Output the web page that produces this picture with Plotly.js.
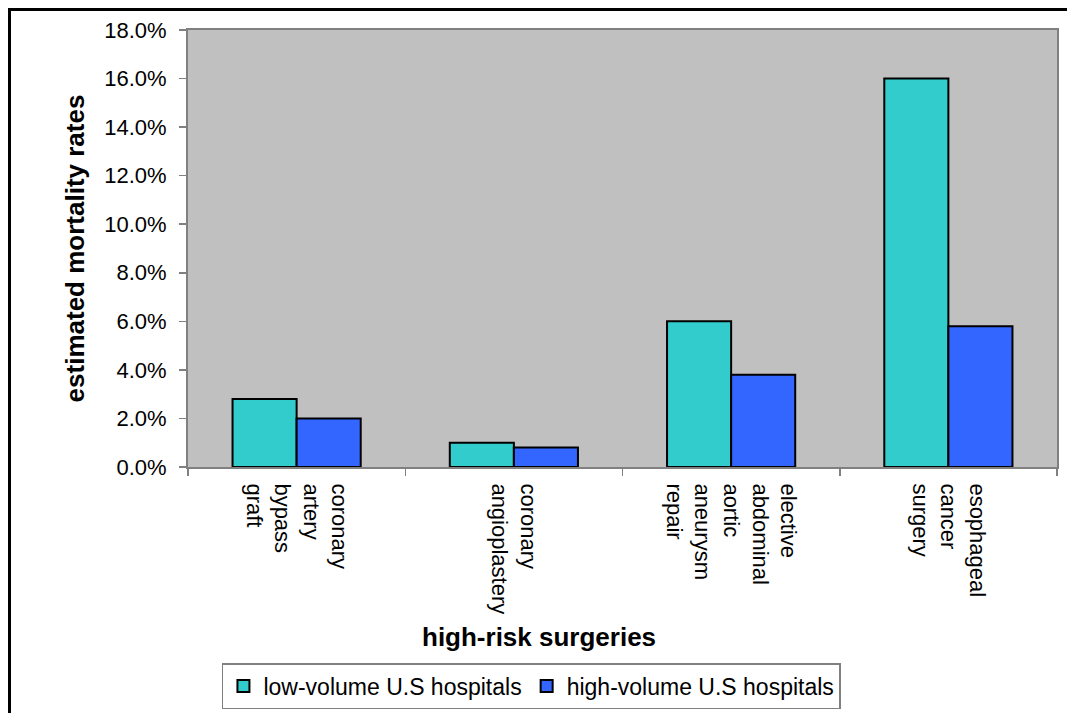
<!DOCTYPE html>
<html>
<head>
<meta charset="utf-8">
<script src="https://cdn.plot.ly/plotly-3.0.1.min.js"></script>
<style>
  html, body { margin: 0; padding: 0; background: #fff; overflow: hidden; }
  #wrap { position: relative; width: 1067px; height: 713px; }
  #chart { position: absolute; left: 0; top: 0; width: 1067px; height: 713px; }
  #frame {
    position: absolute; left: 8px; top: 8px; width: 1200px; height: 800px;
    border-left: 3px solid #000; border-top: 3px solid #000;
    pointer-events: none;
  }
</style>
</head>
<body>
<div id="wrap">
  <div id="chart"></div>
  <div id="frame"></div>
</div>
<script>
// Estimated mortality rates for high-risk surgeries, by hospital volume
const surgeries = [
  "coronary<br>artery<br>bypass<br>graft",
  "coronary<br>angioplastery",
  "elective<br>abdominal<br>aortic<br>aneurysm<br>repair",
  "esophageal<br>cancer<br>surgery"
];
const lowVolume  = [0.028, 0.010, 0.060, 0.160];
const highVolume = [0.020, 0.008, 0.038, 0.058];
const seriesNames = ["low-volume U.S hospitals", "high-volume U.S hospitals"];
const xTitle = "high-risk surgeries";
const yTitle = "estimated mortality rates";

const FONT = "Liberation Sans, Arial, sans-serif";

const traces = [
  {
    type: "bar", name: seriesNames[0], x: surgeries, y: lowVolume,
    marker: { color: "#33CCCC", line: { color: "#000", width: 2 } },
    hoverinfo: "skip"
  },
  {
    type: "bar", name: seriesNames[1], x: surgeries, y: highVolume,
    marker: { color: "#3366FF", line: { color: "#000", width: 2 } },
    hoverinfo: "skip"
  }
];

const layout = {
  width: 1067, height: 713,
  margin: { l: 188, r: 10, t: 30, b: 246 },
  paper_bgcolor: "#fff",
  plot_bgcolor: "#C0C0C0",
  font: { family: FONT, size: 22, color: "#000" },
  barmode: "group",
  bargap: 0.41,
  bargroupgap: 0,
  showlegend: true,
  legend: {
    orientation: "h",
    xref: "container", yref: "container",
    x: 0.208, xanchor: "left",
    y: 0.07, yanchor: "top",
    bgcolor: "#fff",
    bordercolor: "#808080", borderwidth: 1.5,
    font: { family: FONT, size: 23, color: "#000" },
    itemwidth: 30,
    traceorder: "normal"
  },
  xaxis: {
    type: "category",
    tickangle: 90,
    tickson: "boundaries",
    ticks: "outside", ticklen: 7, tickcolor: "#808080", tickwidth: 1.5,
    ticklabelstandoff: 10,
    showline: true, linecolor: "#808080", linewidth: 2, mirror: true,
    showgrid: false, automargin: false,
    tickfont: { family: FONT, size: 22, color: "#000" }
  },
  yaxis: {
    range: [0, 0.18],
    dtick: 0.02,
    tickformat: ".1%",
    ticks: "outside", ticklen: 7, tickcolor: "#808080", tickwidth: 1.5,
    ticklabelstandoff: 8,
    showline: true, linecolor: "#808080", linewidth: 2, mirror: true,
    showgrid: false, zeroline: false, automargin: false,
    tickfont: { family: FONT, size: 22, color: "#000" },
    title: {
      text: yTitle,
      font: { family: FONT, size: 26, color: "#000", weight: "bold" },
      standoff: 12
    }
  },
  // category axis title sits centred under the whole chart frame
  annotations: [
    {
      text: xTitle, showarrow: false,
      xref: "paper", yref: "paper",
      x: 0.404, xanchor: "center",
      y: -0.389, yanchor: "middle",
      font: { family: FONT, size: 26, color: "#000", weight: "bold" }
    }
  ]
};

Plotly.newPlot("chart", traces, layout, { staticPlot: true, displayModeBar: false });
</script>
</body>
</html>
